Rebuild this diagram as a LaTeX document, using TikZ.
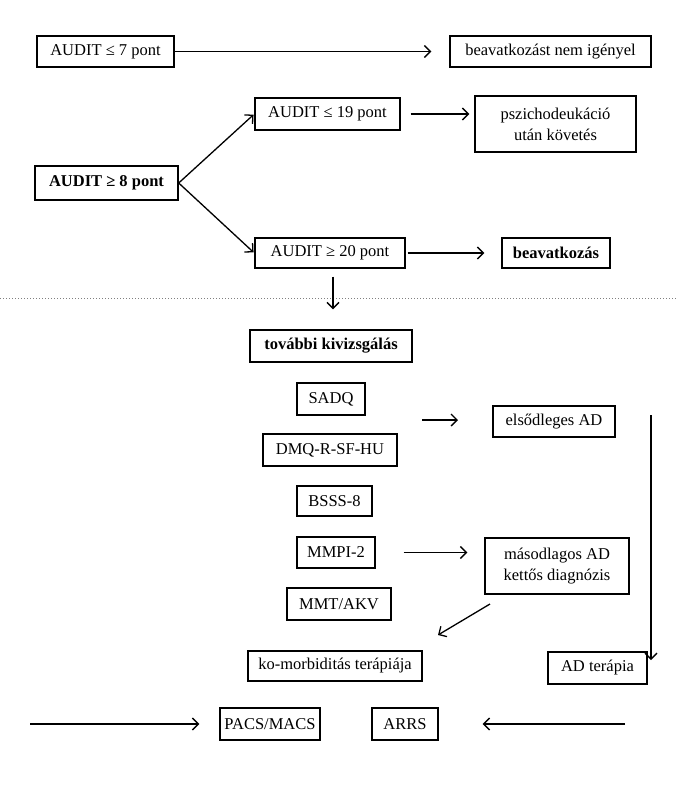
\documentclass[tikz,border=0pt]{standalone}
\usepackage{fontspec}
\setmainfont{Liberation Serif}
\usetikzlibrary{arrows.meta,calc}
\begin{document}
\begin{tikzpicture}[x=1pt,y=-1pt,
  box/.style={draw,line width=1.4pt,inner sep=0pt,align=center,
    font=\fontsize{16.5}{21}\selectfont},
  bbox/.style={box,font=\fontsize{16.5}{21}\selectfont\bfseries},
  arr/.style={line width=1.3pt,-{Straight Barb[length=6pt,width=12pt,line width=1.3pt]}},
  thickarr/.style={arr,line width=2pt}]
\useasboundingbox (0,0) rectangle (676,793);
\fill[white] (0,0) rectangle (676,793);
% top part
\node[box,minimum width=137pt,minimum height=31pt] (a7) at (105.5,51.5) {AUDIT ≤ 7 pont};
\node[box,minimum width=201pt,minimum height=31pt] (nem) at (550.5,51.5) {beavatkozást nem igényel};
\node[box,minimum width=145pt,minimum height=32pt] (a19) at (327.5,114) {AUDIT ≤ 19 pont};
\node[box,minimum width=161pt,minimum height=56pt] (pszi) at (555.5,124) {pszichodeukáció\\után követés};
\node[bbox,minimum width=143pt,minimum height=34pt] (a8) at (106.5,183) {AUDIT ≥ 8 pont};
\node[box,minimum width=150pt,minimum height=30pt] (a20) at (330,253) {AUDIT ≥ 20 pont};
\node[bbox,minimum width=108pt,minimum height=30pt] (beav) at (556,253) {beavatkozás};
% separator
\coordinate (sepL) at (0,298);
\coordinate (sepR) at (676,298);
\draw[gray,line width=1pt,dotted] (sepL) -- (sepR);
% lower part
\node[bbox,minimum width=162pt,minimum height=32pt] (tov) at (331,346) {további kivizsgálás};
\node[box,minimum width=68pt,minimum height=32pt] (sadq) at (331,399) {SADQ};
\node[box,minimum width=134pt,minimum height=32pt] (dmq) at (330,450) {DMQ-R-SF-HU};
\node[box,minimum width=122pt,minimum height=31pt] (elso) at (554,421.5) {elsődleges AD};
\node[box,minimum width=75pt,minimum height=30pt] (bsss) at (334.5,501) {BSSS-8};
\node[box,minimum width=78pt,minimum height=31pt] (mmpi) at (336,552.5) {MMPI-2};
\node[box,minimum width=144pt,minimum height=56pt] (maso) at (557,566) {másodlagos AD\\kettős diagnózis};
\node[box,minimum width=104pt,minimum height=32pt] (mmt) at (339,604) {MMT/AKV};
\node[box,minimum width=174pt,minimum height=30pt] (komo) at (335,666) {ko-morbiditás terápiája};
\node[box,minimum width=99pt,minimum height=32pt] (adt) at (597.5,668) {AD terápia};
\node[box,minimum width=100pt,minimum height=32pt] (pacs) at (270,724) {PACS/MACS};
\node[box,minimum width=66pt,minimum height=32pt] (arrs) at (405,724) {ARRS};
% free-end coordinates
\coordinate (e1s) at (422,420);
\coordinate (e1e) at (458,420);
\coordinate (vs) at (651,415);
\coordinate (ve) at (651,660);
\coordinate (ds) at (490,604);
\coordinate (de) at (438,635);
\coordinate (ls) at (30,724);
\coordinate (rs) at (625,724);
% connectors
\draw[arr,shorten >=18pt] (a7.east) -- (nem.west);
\draw[arr,shorten <=10pt,shorten >=5pt] (a19.east) -- (a19.east -| pszi.west);
\draw[arr,shorten >=1pt] (a8.east) -- (a19.west);
\draw[arr,shorten >=1pt] (a8.east) -- (a20.west);
\draw[thickarr,shorten <=2pt,shorten >=17pt] (a20.east) -- (beav.west);
\draw[arr,shorten <=8pt,shorten >=20pt] ([xshift=3pt]a20.south) -- ([xshift=2pt]tov.north);
\draw[arr] (e1s) -- (e1e);
\draw[arr] (vs) -- (ve);
\draw[arr,shorten <=28pt,shorten >=17pt] (mmpi.east) -- (mmpi.east -| maso.west);
\draw[arr] (ds) -- (de);
\draw[arr,shorten >=20pt] (ls) -- (pacs.west);
\draw[arr,shorten >=44pt] (rs) -- (arrs.east);
\end{tikzpicture}
\end{document}
